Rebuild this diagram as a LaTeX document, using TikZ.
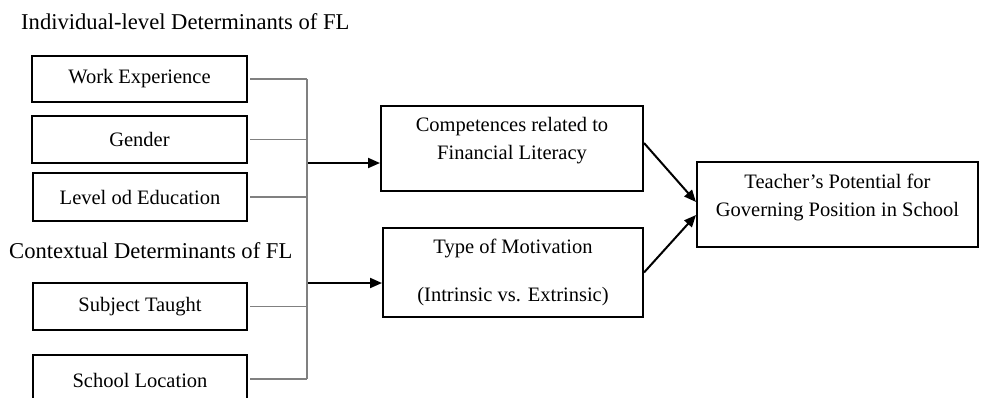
\documentclass[tikz,border=0pt]{standalone}
\usepackage{fontspec}
\setmainfont{Liberation Serif}
\usetikzlibrary{arrows.meta}
\begin{document}
\begin{tikzpicture}[x=1pt,y=1pt,
  box/.style={draw=black,line width=2pt,inner sep=0pt,font=\fontsize{20.5}{28}\selectfont,align=center},
  txt/.style={inner sep=0pt,font=\fontsize{20.5}{28}\selectfont,align=center},
  lbl/.style={inner sep=0pt,anchor=west,font=\fontsize{22.6}{27}\selectfont},
  conn/.style={draw=black!50,line width=1.2pt},
  arr/.style={draw=black,line width=2pt,-{Triangle[length=12pt,width=10pt]}}]
\useasboundingbox (0,0) rectangle (981,-397);
\begin{scope}
\clip (0,0) rectangle (981,-397);
% labels
\node[lbl] (ind) at (21,-22) {Individual-level Determinants of FL};
\node[lbl] (ctx) at (9,-251) {Contextual Determinants of FL};
% left boxes
\node[box,minimum width=215pt,minimum height=46pt] (we) at (139.5,-79) {Work Experience};
\node[box,minimum width=215pt,minimum height=47pt] (gen) at (139.5,-139.5) {Gender};
\node[box,minimum width=214pt,minimum height=48pt] (lev) at (140,-197) {Level od Education};
\node[box,minimum width=214pt,minimum height=47pt] (sub) at (140,-306.5) {Subject Taught};
\node[box,minimum width=214pt,minimum height=50pt] (sch) at (140,-380) {School Location};
% middle boxes
\node[box,minimum width=262pt,minimum height=85pt] (comp) at (512,-148.5) {};
\node[txt] (compt) at (512,-141) {Competences related to\\Financial Literacy};
\node[box,minimum width=260pt,minimum height=89pt] (mot) at (513,-272.5) {Type of Motivation\\[20pt](Intrinsic vs. Extrinsic)};
% right box
\node[box,minimum width=281pt,minimum height=85pt] (tgt) at (837.5,-204.5) {};
\node[txt] (tgtt) at (837.5,-197) {Teacher’s Potential for\\Governing Position in School};
% collector
\coordinate (vtop) at (307,-79);
\coordinate (vbot) at (307,-379);
\coordinate (v1) at (308,-163);
\coordinate (v2) at (308,-283);
\draw[conn] ([xshift=2pt]we.east) -- (we.east -| vtop);
\draw[conn] ([xshift=2pt]gen.east) -- (gen.east -| vtop);
\draw[conn] ([xshift=2pt]lev.east) -- (lev.east -| vtop);
\draw[conn] ([xshift=2pt]sub.east) -- (sub.east -| vtop);
\draw[conn] ([xshift=2pt]sch.east |- vbot) -- (vbot);
\draw[conn] (vtop) -- (vbot);
\draw[arr] (v1) -- (v1 -| comp.west);
\draw[arr] (v2) -- (v2 -| mot.west);
\draw[arr] ([yshift=5.5pt]comp.east) -- ([yshift=2.5pt]tgt.west);
\draw[arr] (mot.east) -- ([yshift=-10.5pt]tgt.west);
\end{scope}
\end{tikzpicture}
\end{document}
